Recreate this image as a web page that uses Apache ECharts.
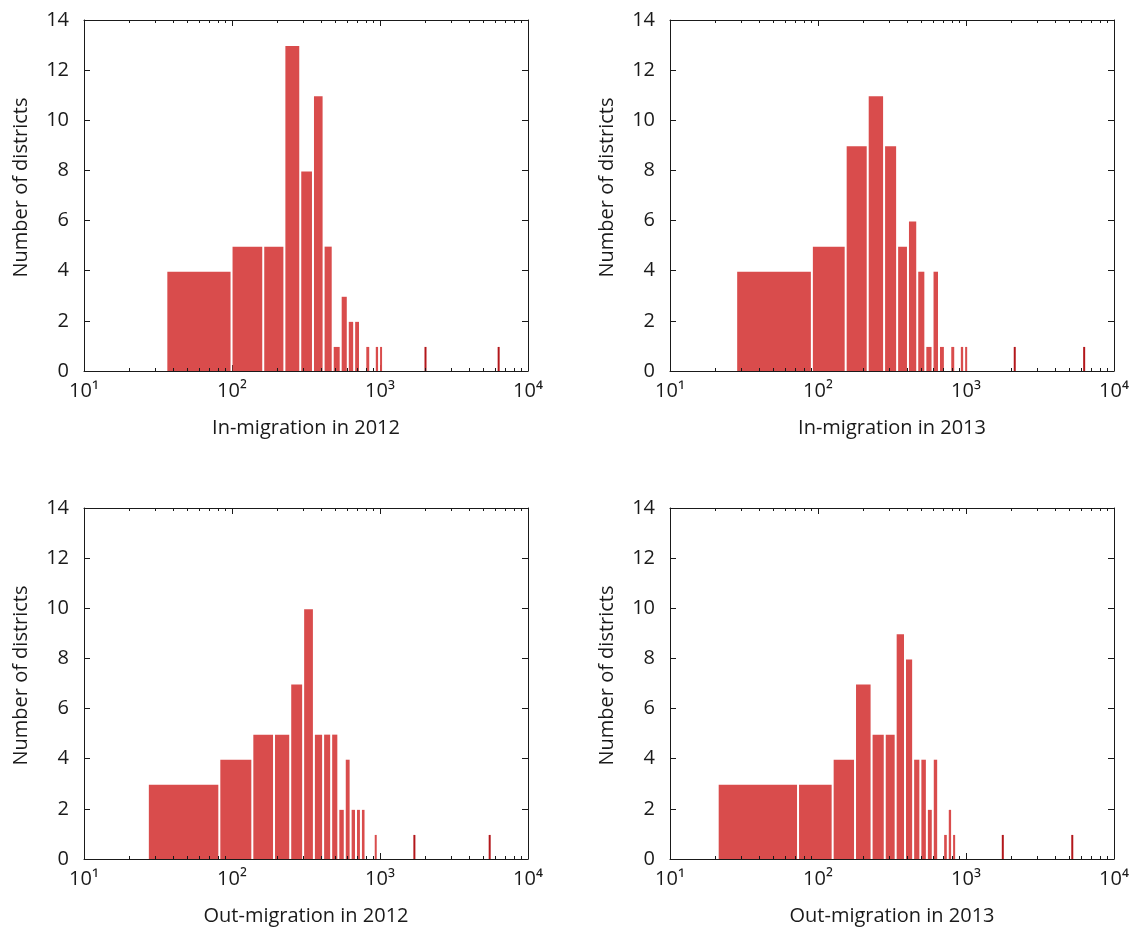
<!DOCTYPE html>
<html>
<head>
<meta charset="utf-8">
<script src="https://cdn.jsdelivr.net/npm/echarts@6/dist/echarts.min.js"></script>
<style>
  html, body { margin: 0; padding: 0; background: #ffffff; }
  #chart { width: 1135px; height: 930px; }
</style>
</head>
<body>
<div id="chart"></div>
<script>
// Equal-width histogram bins (100 bins from the smallest value to the largest).
// Each pair is [bin index, number of districts]; empty bins are left out.
const inStart2012 = 36;
const inWidth2012 = 63.3;
const inCounts2012 = [[0, 4], [1, 5], [2, 5], [3, 13], [4, 8], [5, 11], [6, 5], [7, 1], [8, 3],
  [9, 2], [10, 2], [12, 1], [14, 1], [15, 1], [31, 1], [99, 1]];

const inStart2013 = 28;
const inWidth2013 = 62.9;
const inCounts2013 = [[0, 4], [1, 5], [2, 9], [3, 11], [4, 9], [5, 5], [6, 6], [7, 4], [8, 1],
  [9, 4], [10, 1], [12, 1], [14, 1], [15, 1], [33, 1], [99, 1]];

const outStart2012 = 27;
const outWidth2012 = 55.1;
const outCounts2012 = [[0, 3], [1, 4], [2, 5], [3, 5], [4, 7], [5, 10], [6, 5], [7, 5], [8, 5],
  [9, 2], [10, 4], [11, 2], [12, 2], [13, 2], [16, 1], [30, 1], [99, 1]];

const outStart2013 = 21;
const outWidth2013 = 52.3;
const outCounts2013 = [[0, 3], [1, 3], [2, 4], [3, 7], [4, 5], [5, 5], [6, 9], [7, 8], [8, 4],
  [9, 4], [10, 2], [11, 4], [13, 1], [14, 2], [15, 1], [33, 1], [99, 1]];

const axisTitles = ['In-migration in 2012', 'In-migration in 2013',
                    'Out-migration in 2012', 'Out-migration in 2013'];
const yTitle = 'Number of districts';

// Minor ticks of the logarithmic x axis
const minorTicks = [20, 30, 40, 50, 60, 70, 80, 90,
                    200, 300, 400, 500, 600, 700, 800, 900,
                    2000, 3000, 4000, 5000, 6000, 7000, 8000, 9000];
const superscripts = ['⁰', '¹', '²', '³', '⁴'];

const histograms = [
  { start: inStart2012, width: inWidth2012, counts: inCounts2012 },
  { start: inStart2013, width: inWidth2013, counts: inCounts2013 },
  { start: outStart2012, width: outWidth2012, counts: outCounts2012 },
  { start: outStart2013, width: outWidth2013, counts: outCounts2013 }
];

// Panel placement (2 x 2)
const layout = [
  { left: 84, top: 20 }, { left: 670, top: 20 },
  { left: 84, top: 508 }, { left: 670, top: 508 }
];
const PW = 444, PH = 351;

const FONT = '"Open Sans", "Noto Sans", sans-serif';
const FS = 20;
const INK = '#1a1a1a';
const BAR = '#d94c4c';
const BAR_THIN = '#b3171b';

const grids = [], xAxes = [], yAxes = [], series = [];

layout.forEach((pos, i) => {
  grids.push({ left: pos.left, top: pos.top, width: PW, height: PH });

  const xBase = {
    type: 'log', logBase: 10, min: 10, max: 10000, gridIndex: i,
    axisLine: { show: true, onZero: false, lineStyle: { color: INK, width: 1 } },
    axisTick: { show: true, inside: true, length: 6, lineStyle: { color: INK, width: 1 } },
    splitLine: { show: false }
  };
  xAxes.push(Object.assign({}, xBase, {
    position: 'bottom',
    axisLabel: {
      show: true, margin: 10, fontSize: FS, color: INK, fontFamily: FONT,
      formatter: v => '10' + superscripts[Math.round(Math.log10(v))]
    },
    name: axisTitles[i], nameLocation: 'middle', nameGap: 47,
    nameTextStyle: { fontSize: FS, color: INK, fontFamily: FONT }
  }));
  xAxes.push(Object.assign({}, xBase, { position: 'top', axisLabel: { show: false } }));

  const yBase = {
    type: 'value', min: 0, max: 14, interval: 2, gridIndex: i,
    axisLine: { show: true, onZero: false, lineStyle: { color: INK, width: 1 } },
    axisTick: { show: true, inside: true, length: 6, lineStyle: { color: INK, width: 1 } },
    splitLine: { show: false }
  };
  yAxes.push(Object.assign({}, yBase, {
    position: 'left',
    axisLabel: { show: true, margin: 15, fontSize: FS, color: INK, fontFamily: FONT },
    name: yTitle, nameLocation: 'middle', nameGap: 53,
    nameTextStyle: { fontSize: FS, color: INK, fontFamily: FONT, padding: [0, 0, 0, 16] }
  }));
  yAxes.push(Object.assign({}, yBase, { position: 'right', axisLabel: { show: false } }));

  const h = histograms[i];
  const barData = h.counts.map(([k, n]) => [h.start + k * h.width, h.start + (k + 1) * h.width, n]);

  series.push({
    type: 'custom', xAxisIndex: 2 * i, yAxisIndex: 2 * i,
    data: barData, encode: { x: [0, 1], y: 2 },
    renderItem: (params, api) => {
      const p0 = api.coord([api.value(0), 0]);
      const p1 = api.coord([api.value(1), api.value(2)]);
      const raw = p1[0] - p0[0];
      const w = Math.max(raw - 2, 2);
      const cx = (p0[0] + p1[0]) / 2;
      return {
        type: 'rect',
        shape: { x: cx - w / 2, y: p1[1] + 1, width: w, height: p0[1] - p1[1] - 1 },
        style: { fill: raw < 2.5 ? BAR_THIN : BAR }
      };
    }
  });

  // Minor log ticks on the bottom and top frame edges
  series.push({
    type: 'custom', xAxisIndex: 2 * i, yAxisIndex: 2 * i,
    data: minorTicks.map(v => [v, 0]), encode: { x: 0, y: 1 },
    silent: true, z: 5,
    renderItem: (params, api) => {
      const cs = params.coordSys;
      const x = Math.round(api.coord([api.value(0), 0])[0]) + 0.5;
      const yb = cs.y + cs.height, yt = cs.y;
      return {
        type: 'group',
        children: [
          { type: 'line', shape: { x1: x, y1: yb, x2: x, y2: yb - 3 }, style: { stroke: INK, lineWidth: 1 } },
          { type: 'line', shape: { x1: x, y1: yt, x2: x, y2: yt + 3 }, style: { stroke: INK, lineWidth: 1 } }
        ]
      };
    }
  });
});

const chart = echarts.init(document.getElementById('chart'), null, { renderer: 'canvas' });
chart.setOption({
  animation: false,
  backgroundColor: '#ffffff',
  grid: grids,
  xAxis: xAxes,
  yAxis: yAxes,
  series: series
});
</script>
</body>
</html>
